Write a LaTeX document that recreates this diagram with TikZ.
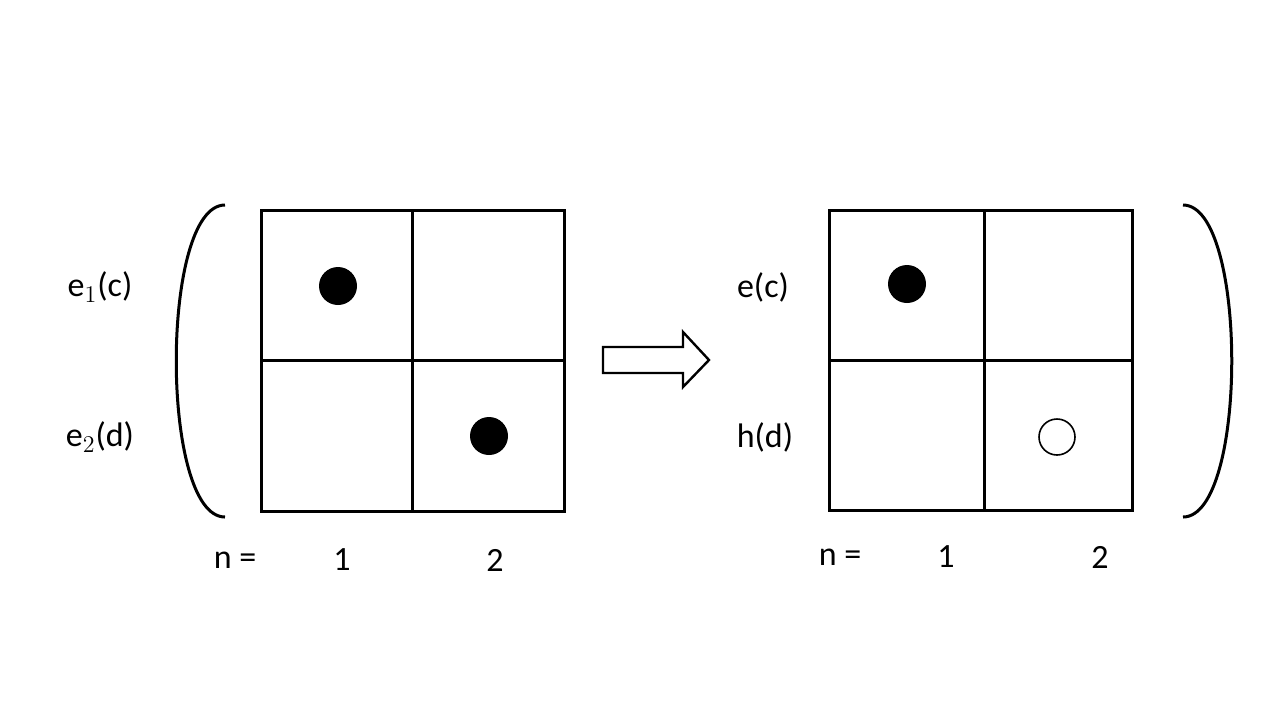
\documentclass[tikz,border=0pt]{standalone}
\usepackage{fontspec}
\setmainfont{Carlito}
\begin{document}
\begin{tikzpicture}[x=0.5pt,y=-0.5pt,line width=1.5pt,
  lbl/.style={font=\fontsize{17}{20}\selectfont},
  dot/.style={fill=black,line width=0.8pt},
  hole/.style={fill=white,line width=0.8pt}]
\useasboundingbox (0,0) rectangle (1280,720);
% left grid
\draw (261,210) rectangle (564,511);
\draw (412,210) -- (412,511);
\draw (261,360) -- (564,360);
\fill[dot] (338,286) circle (19);
\fill[dot] (489,436) circle (19);
% right grid
\draw (829,210) rectangle (1132,510);
\draw (984,210) -- (984,510);
\draw (829,360) -- (1132,360);
\fill[dot] (907,284) circle (19);
\draw[hole] (1057,437) circle (18);
% brackets
\draw (225,205) .. controls (160,205) and (160,517) .. (225,517);
\draw (1183,205) .. controls (1248,205) and (1248,517) .. (1183,517);
% arrow
\draw[line width=1.2pt] (603,347) -- (683,347) -- (683,332) -- (709,360) -- (683,387) -- (683,373) -- (603,373) -- cycle;
% labels
\node[lbl] (ec1) at (100,287) {e$_1$(c)};
\node[lbl] (ed2) at (100,437) {e$_2$(d)};
\node[lbl] (ec) at (763,287) {e(c)};
\node[lbl] (hd) at (765,437) {h(d)};
\node[lbl] (nl) at (235,560) {n =};
\node[lbl] (nl1) at (342,560) {1};
\node[lbl] (nl2) at (495,560) {2};
\node[lbl] (nr) at (840,557) {n =};
\node[lbl] (nr1) at (946,557) {1};
\node[lbl] (nr2) at (1100,557) {2};
\end{tikzpicture}
\end{document}
